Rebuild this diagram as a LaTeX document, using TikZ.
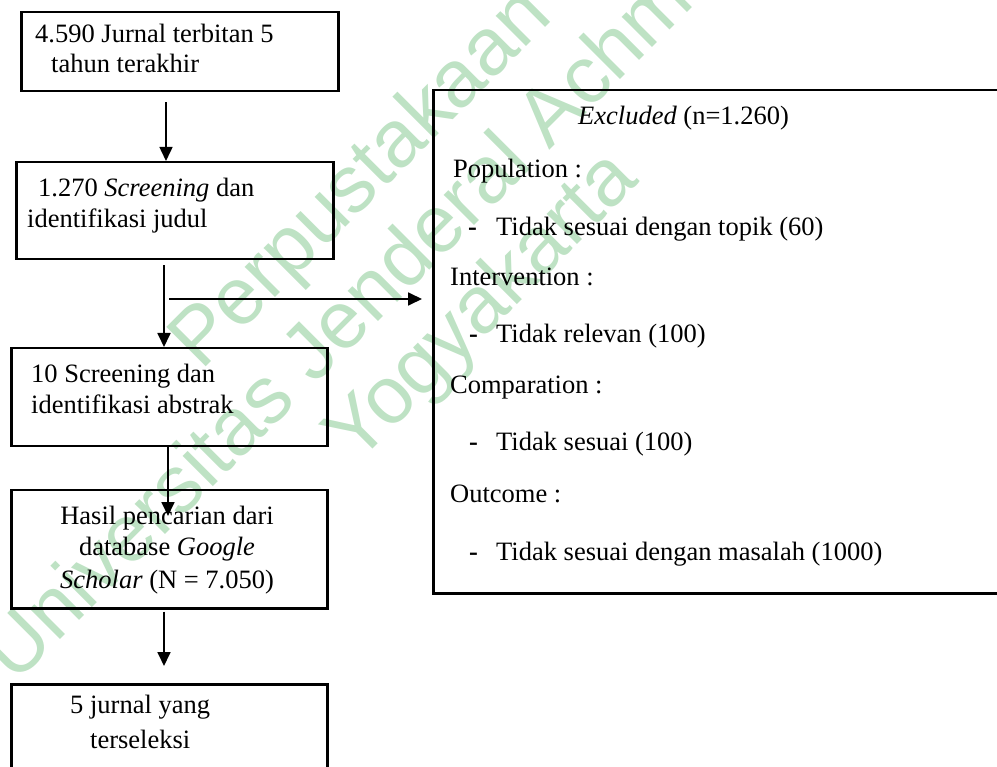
\documentclass[tikz,border=0pt]{standalone}
\usepackage{fontspec}
\setmainfont{Liberation Serif}
\newfontfamily\wmfont{Liberation Sans}
\usetikzlibrary{arrows.meta}
\definecolor{wmgreen}{RGB}{190,226,196}
\begin{document}
\begin{tikzpicture}[x=1pt,y=-1pt,
  box/.style={draw, line width=2.5pt, inner sep=0pt, anchor=north west},
  txt/.style={anchor=base west, inner sep=0pt, font=\fontsize{26.5}{30}\selectfont},
  ctxt/.style={anchor=base, inner sep=0pt, font=\fontsize{26.5}{30}\selectfont},
  bul/.style={anchor=base west, inner sep=0pt, font=\fontsize{26.5}{30}\selectfont\bfseries},
  wm/.style={anchor=base west, inner sep=0pt, rotate=45, text=wmgreen, font=\wmfont\fontsize{81}{90}\selectfont},
  arr/.style={line width=1.8pt, -{Triangle[length=14pt,width=13pt]}}]
\useasboundingbox (0,0) rectangle (997,767);
\clip (0,0) rectangle (997,767);

% watermark
\node[wm] (w1) at (201,372) {Perpustakaan};
\node[wm] (w2) at (15,685) {Universitas Jenderal Achmad};
\node[wm] (w3) at (356,466) {Yogyakarta};

% boxes
\node[box, minimum width=317pt, minimum height=79pt] (b1) at (20,11) {};
\node[box, minimum width=317pt, minimum height=97pt] (b2) at (15,161) {};
\node[box, minimum width=316pt, minimum height=98pt] (b3) at (10,347) {};
\node[box, minimum width=316pt, minimum height=118pt] (b4) at (10,489) {};
\node[box, minimum width=316pt, minimum height=110pt] (b5) at (10,683) {};
\node[box, minimum width=590pt, minimum height=503pt] (ex) at (432,89) {};

% texts
\node[txt] (t11) at (35,43) {4.590 Jurnal terbitan 5};
\node[txt] (t12) at (51,73) {tahun terakhir};
\node[txt] (t21) at (38,197) {1.270 \textit{Screening} dan};
\node[txt] (t22) at (27,228) {identifikasi judul};
\node[txt] (t31) at (31,383) {10 Screening dan};
\node[txt] (t32) at (31,414) {identifikasi abstrak};
\node[ctxt] (t41) at (167,525) {Hasil pencarian dari};
\node[ctxt] (t42) at (167,555) {database \textit{Google}};
\node[ctxt] (t43) at (167,588) {\textit{Scholar} (N = 7.050)};
\node[txt] (t51) at (70,713) {5 jurnal yang};
\node[txt] (t52) at (90,748) {terseleksi};

\node[txt] (e0) at (578,125) {\textit{Excluded} (n=1.260)};
\node[txt] (e1) at (453,178) {Population :};
\node[bul] (d1) at (468,236) {-};
\node[txt] (e2) at (496,236) {Tidak sesuai dengan topik (60)};
\node[txt] (e3) at (450,286) {Intervention :};
\node[bul] (d2) at (469,343) {-};
\node[txt] (e4) at (496,343) {Tidak relevan (100)};
\node[txt] (e5) at (450,394) {Comparation :};
\node[bul] (d3) at (469,451) {-};
\node[txt] (e6) at (496,451) {Tidak sesuai (100)};
\node[txt] (e7) at (450,502) {Outcome :};
\node[bul] (d4) at (469,560) {-};
\node[txt] (e8) at (496,560) {Tidak sesuai dengan masalah (1000)};

% connectors
\coordinate (x1) at (166,0);
\coordinate (x2) at (164,0);
\coordinate (h0) at (169,299);
\coordinate (a4) at (168,516);
\coordinate (a5) at (164,666);
\draw[arr, line width=1.5pt] ([yshift=-10pt]b1.south -| x1) -- (b2.north -| x1);
\draw[arr] ([yshift=-5pt]b2.south -| x2) -- (b3.north -| x2);
\draw[arr, shorten >=10pt] (h0) -- (h0 -| ex.west);
\draw[arr] (b3.south -| a4) -- (a4);
\draw[arr] ([yshift=-2pt]b4.south -| a5) -- (a5);
\end{tikzpicture}
\end{document}
